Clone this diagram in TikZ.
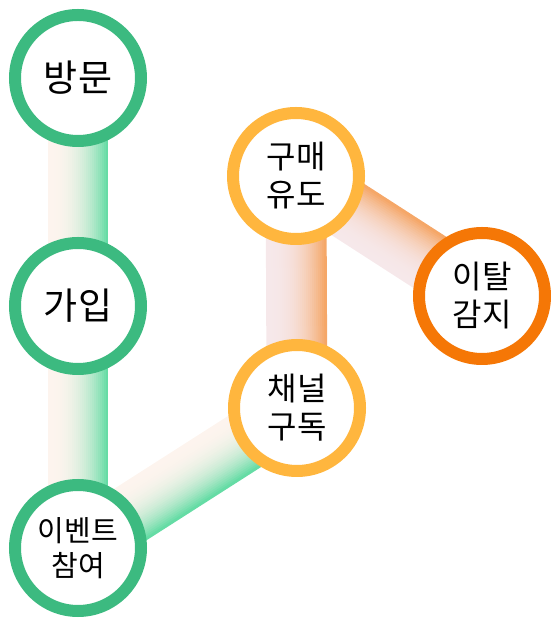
\documentclass[tikz,border=0pt]{standalone}
\usepackage{fontspec}
\newfontfamily\kr{Noto Sans CJK KR}
\usetikzlibrary{calc}
\pgfdeclarelayer{bg}
\pgfsetlayers{bg,main}
\definecolor{gring}{HTML}{3CBA80}
\definecolor{yring}{HTML}{FFB63E}
\definecolor{oring}{HTML}{F57706}
\definecolor{gpale}{HTML}{FDF4EE}
\definecolor{gstrong}{HTML}{5EDBA2}
\definecolor{opale}{HTML}{F6E8EA}
\definecolor{ostrong}{HTML}{F5A462}
\newcommand\gradband[4]{%
  \foreach \bi in {0,...,29}{%
    \pgfmathsetmacro\bandt{(\bi+0.5)/30}%
    \pgfmathsetmacro\bando{-30+60*\bandt}%
    \pgfmathsetmacro\bandf{100*pow(\bandt,2.5)}%
    \draw[line width=2.8pt, color=#4!\bandf!#3]
      ($(#1.center)!\bando pt!90:(#2.center)$) -- ($(#2.center)!\bando pt!-90:(#1.center)$);
  }}
\tikzset{
  ring/.style={circle, minimum size=126pt, inner sep=0pt, line width=12pt, fill=white, align=center, text=black},
  big/.style={font=\kr\fontsize{37}{43}\selectfont},
  mid/.style={font=\kr\fontsize{32}{38}\selectfont},
  small/.style={font=\kr\fontsize{29}{35}\selectfont}
}
\begin{document}
\begin{tikzpicture}[x=1pt,y=1pt]
\useasboundingbox (0,0) rectangle (551,618);
\node[ring, draw=gring, big] (visit) at (78,540) {방문};
\node[ring, draw=gring, big] (join) at (78,312) {가입};
\node[ring, draw=gring, small] (event) at (78,70) {이벤트\\참여};
\node[ring, draw=yring, mid] (buy) at (296,442) {구매\\유도};
\node[ring, draw=yring, mid] (sub) at (297,210) {채널\\구독};
\node[ring, draw=oring, mid] (churn) at (482,322) {이탈\\감지};
\begin{pgfonlayer}{bg}
\gradband{visit}{join}{gpale}{gstrong}
\gradband{join}{event}{gpale}{gstrong}
\gradband{sub}{event}{gpale}{gstrong}
\gradband{buy}{sub}{opale}{ostrong}
\gradband{buy}{churn}{opale}{ostrong}
\end{pgfonlayer}
\end{tikzpicture}
\end{document}
